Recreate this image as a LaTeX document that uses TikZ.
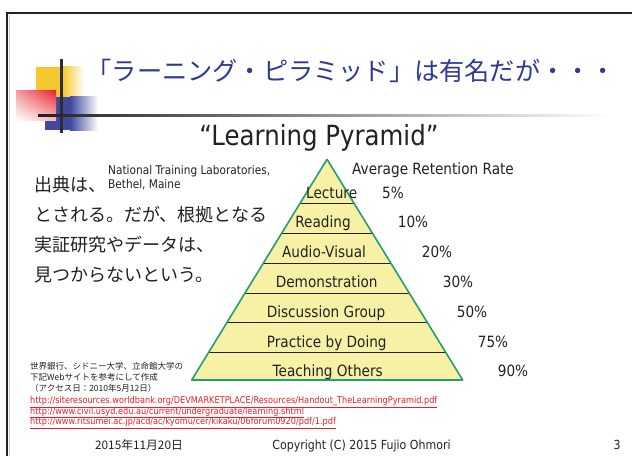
\documentclass[tikz,border=0pt]{standalone}
\usepackage{fontspec}
\setmainfont{DejaVu Sans}[FakeStretch=0.88]
\newfontfamily\jfont{Noto Sans CJK JP}
\usetikzlibrary{calc,shadings}

\definecolor{ink}{RGB}{34,34,34}
\definecolor{titleblue}{RGB}{46,58,148}
\definecolor{pyrfill}{RGB}{246,241,165}
\definecolor{pyredge}{RGB}{40,158,112}
\definecolor{linkred}{RGB}{238,30,36}
\definecolor{sqyellow}{RGB}{245,200,48}
\definecolor{sqblue}{RGB}{64,72,160}
\definecolor{sqred}{RGB}{232,36,46}

\tikzset{
  txt/.style={anchor=base, inner sep=0pt, text=ink},
  band/.style={txt, font=\fontsize{15.5}{18}\selectfont},
  note/.style={txt, anchor=base west, font=\jfont\fontsize{8.5}{10}\selectfont},
  link/.style={txt, anchor=base west, text=linkred, font=\fontsize{9.3}{10}\selectfont},
  jline/.style={txt, anchor=base west, font=\jfont\fontsize{18}{20}\selectfont},
  foot/.style={txt, font=\fontsize{12.5}{14}\selectfont}
}

\begin{document}
\begin{tikzpicture}[x=1pt, y=-1pt]
  \useasboundingbox[fill=white] (0,0) rectangle (632,456);

  % slide frame and corner logo
  \draw[ink, line width=2.5pt] (7,456) -- (7,13) -- (632,13);
  \draw[gray!45, line width=0.8pt] (9.3,15) -- (9.3,456);
  \fill[sqyellow] (36,66.7) rectangle (63,96.7);
  \shade[left color=sqyellow, right color=white] (63,66.7) rectangle (84,96.7);
  \fill[sqblue] (45,96.7) rectangle (70,130);
  \shade[left color=sqblue, right color=white] (70,96.7) rectangle (98,130);
  \shade[upper right=sqred, upper left=sqred!45, lower right=sqred!30, lower left=white]
    (16,90.7) rectangle (56,120.7);
  \shade[left color=ink, right color=white] (38,114) rectangle (612,116.8);
  \fill[ink!95] (59.8,59.3) rectangle (62.8,132.7);

  \node[txt, anchor=base west, text=titleblue, font=\jfont\fontsize{25.2}{28}\selectfont] (title) at (86.5,80)
    {「ラーニング・ピラミッド」は有名だが・・・};
  \node[txt, font=\fontsize{27.8}{30}\selectfont] (name) at (319,145) {“Learning Pyramid”};

  % pyramid
  \coordinate (apex) at (327,159.3);
  \coordinate (bl) at (191.7,380);
  \coordinate (br) at (462.7,380);
  \fill[pyrfill] (apex) -- (bl) -- (br) -- cycle;
  \foreach \t in {0.199,0.335,0.471,0.607,0.741,0.875}
    \draw[ink, line width=0.9pt] ($(apex)!\t!(bl)$) -- ($(apex)!\t!(br)$);
  \draw[pyredge, line width=1.6pt, line join=round] (apex) -- (bl) -- (br) -- cycle;

  \node[band] (rate) at (433,174) {Average Retention Rate};
  \foreach \name/\label/\lx/\pct/\px [count=\i] in {
      lecture/Lecture/331.7/5/393,
      reading/Reading/323/10/413,
      audio/Audio-Visual/324/20/437,
      demo/Demonstration/326.7/30/458,
      discuss/Discussion Group/326/50/472,
      practice/Practice by Doing/326.7/75/493,
      teach/Teaching Others/327.7/90/513}
  {
    \node[band] (\name) at (\lx,{198+29.8*(\i-1)}) {\label};
    \node[band] (\name-pct) at (\px,{198+29.8*(\i-1)}) {\pct\%};
  }

  % source remark
  \node[jline] (src1) at (34,191) {出典は、};
  \node[txt, anchor=base west, font=\fontsize{12}{13}\selectfont] (ntl) at (108,174) {National Training Laboratories,};
  \node[txt, anchor=base west, font=\fontsize{12}{13}\selectfont] (bethel) at (108,188.3) {Bethel, Maine};
  \node[jline] (src2) at (34,221.5) {とされる。だが、根拠となる};
  \node[jline] (src3) at (34,251.5) {実証研究やデータは、};
  \node[jline] (src4) at (34,281.5) {見つからないという。};

  % references
  \node[note] (ref1) at (30,369.5) {世界銀行、シドニー大学、立命館大学の};
  \node[note] (ref2) at (30,380.5) {下記Webサイトを参考にして作成};
  \node[note] (ref3) at (30,391.5) {（アクセス日：2010年5月12日）};
  \node[link] (url1) at (30,403.3) {\underline{http://siteresources.worldbank.org/DEVMARKETPLACE/Resources/Handout\_TheLearningPyramid.pdf}};
  \node[link] (url2) at (30,414) {\underline{http://www.civil.usyd.edu.au/current/undergraduate/learning.shtml}};
  \node[link] (url3) at (30,424.5) {\underline{http://www.ritsumei.ac.jp/acd/ac/kyomu/cer/kikaku/06forum0920/pdf/1.pdf}};

  % footer
  \node[foot, font=\jfont\fontsize{11.8}{13}\selectfont] (date) at (139,449.5) {2015年11月20日};
  \node[foot] (copy) at (361.5,449.5) {Copyright (C) 2015 Fujio Ohmori};
  \node[foot] (page) at (617,449.5) {3};
\end{tikzpicture}
\end{document}
